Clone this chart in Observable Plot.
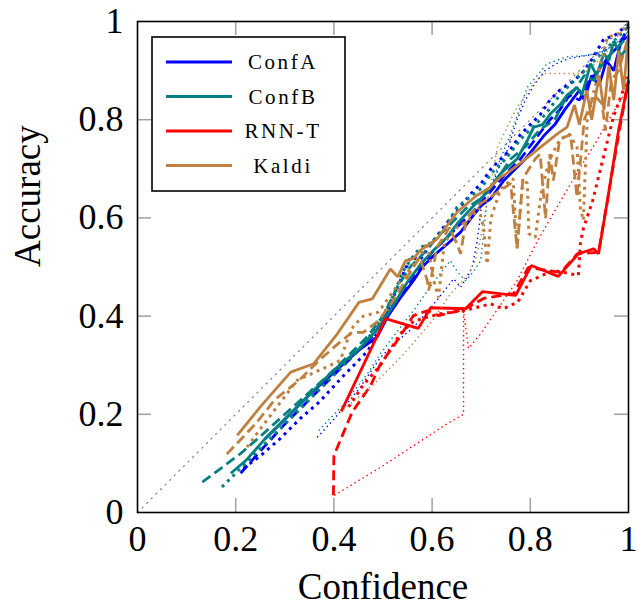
<!DOCTYPE html>
<html><head><meta charset="utf-8">
<script src="https://cdn.jsdelivr.net/npm/d3@7"></script>
<script src="https://cdn.jsdelivr.net/npm/@observablehq/plot@0.6"></script>
<style>
body{margin:0;background:#fff}
#chart svg text { font-family: "Liberation Serif", serif !important; }
</style>
</head><body><div id="chart"></div>
<script>
// ---- data ----
const systems = ["ConfA", "ConfB", "RNN-T", "Kaldi"];
const colors = ["#0000ff", "#008080", "#ff0000", "#bf8040"];
const xTicks = [0, 0.2, 0.4, 0.6, 0.8, 1];
const yTicks = [0, 0.2, 0.4, 0.6, 0.8, 1];
const diagonal = [[0, 0], [1, 1]];

const confA_solid = [[0.26,0.15],[0.30,0.19],[0.35,0.24],[0.40,0.285],[0.45,0.33],[0.488,0.357],[0.51,0.40],[0.536,0.438],[0.562,0.472],[0.58,0.50],[0.603,0.523],[0.631,0.547],[0.658,0.571],[0.68,0.60],[0.70,0.625],[0.72,0.64],[0.745,0.675],[0.77,0.70],[0.79,0.72],[0.81,0.745],[0.83,0.77],[0.85,0.79],[0.87,0.82],[0.885,0.84],[0.90,0.86],[0.91,0.84],[0.925,0.89],[0.94,0.87],[0.955,0.92],[0.97,0.90],[0.985,0.96],[1.0,0.97]];
const confA_dashed = [[0.21,0.08],[0.25,0.125],[0.30,0.18],[0.35,0.23],[0.40,0.28],[0.44,0.32],[0.48,0.36],[0.51,0.41],[0.54,0.45],[0.57,0.49],[0.60,0.53],[0.63,0.56],[0.66,0.59],[0.69,0.62],[0.72,0.655],[0.75,0.69],[0.78,0.72],[0.81,0.76],[0.84,0.80],[0.86,0.82],[0.88,0.85],[0.90,0.84],[0.92,0.88],[0.94,0.90],[0.96,0.93],[0.98,0.95],[1.0,0.99]];
const confA_dotted = [[0.216,0.09],[0.25,0.115],[0.29,0.15],[0.33,0.19],[0.37,0.225],[0.42,0.279],[0.47,0.33],[0.50,0.39],[0.53,0.46],[0.556,0.52],[0.576,0.515],[0.60,0.55],[0.63,0.59],[0.655,0.62],[0.68,0.65],[0.70,0.67],[0.72,0.70],[0.74,0.72],[0.76,0.74],[0.78,0.77],[0.80,0.79],[0.82,0.81],[0.84,0.84],[0.86,0.86],[0.875,0.87],[0.89,0.88],[0.91,0.90],[0.93,0.93],[0.95,0.965],[0.97,0.97],[1.0,0.995]];
const confA_thin = [[0.366,0.153],[0.40,0.19],[0.45,0.25],[0.495,0.316],[0.53,0.35],[0.562,0.377],[0.60,0.42],[0.644,0.476],[0.658,0.459],[0.672,0.48],[0.682,0.50],[0.692,0.554],[0.702,0.635],[0.72,0.66],[0.735,0.70],[0.753,0.737],[0.773,0.80],[0.79,0.84],[0.807,0.87],[0.83,0.90],[0.855,0.915],[0.88,0.925],[0.91,0.93],[0.94,0.935],[0.97,0.95],[1.0,0.98]];

const confB_solid = [[0.19,0.08],[0.22,0.105],[0.257,0.147],[0.30,0.19],[0.35,0.24],[0.40,0.29],[0.454,0.335],[0.49,0.375],[0.52,0.42],[0.55,0.47],[0.576,0.505],[0.603,0.534],[0.631,0.561],[0.651,0.588],[0.68,0.62],[0.71,0.65],[0.739,0.69],[0.773,0.72],[0.794,0.758],[0.807,0.785],[0.825,0.79],[0.841,0.812],[0.86,0.83],[0.875,0.85],[0.895,0.866],[0.905,0.85],[0.923,0.914],[0.935,0.89],[0.95,0.935],[0.96,0.92],[0.97,0.96],[0.985,0.93],[1.0,0.95]];
const confB_dashed = [[0.132,0.062],[0.17,0.09],[0.21,0.12],[0.25,0.155],[0.30,0.20],[0.35,0.245],[0.40,0.29],[0.44,0.33],[0.47,0.36],[0.50,0.40],[0.53,0.46],[0.555,0.50],[0.58,0.525],[0.61,0.56],[0.64,0.59],[0.67,0.62],[0.70,0.64],[0.73,0.675],[0.76,0.72],[0.79,0.745],[0.82,0.78],[0.85,0.80],[0.87,0.84],[0.89,0.86],[0.91,0.89],[0.93,0.88],[0.95,0.92],[0.97,0.94],[1.0,0.97]];
const confB_dotted = [[0.172,0.052],[0.20,0.08],[0.24,0.12],[0.28,0.16],[0.32,0.20],[0.36,0.24],[0.40,0.28],[0.44,0.32],[0.47,0.355],[0.50,0.40],[0.52,0.44],[0.54,0.49],[0.56,0.52],[0.576,0.54],[0.60,0.55],[0.625,0.58],[0.651,0.622],[0.68,0.645],[0.70,0.66],[0.72,0.69],[0.75,0.72],[0.78,0.76],[0.80,0.78],[0.83,0.81],[0.86,0.85],[0.88,0.87],[0.90,0.89],[0.92,0.91],[0.94,0.93],[0.96,0.95],[0.98,0.97],[1.0,0.99]];
const confB_thin = [[0.369,0.167],[0.42,0.22],[0.47,0.285],[0.495,0.324],[0.53,0.37],[0.562,0.411],[0.60,0.465],[0.637,0.513],[0.652,0.49],[0.668,0.472],[0.684,0.49],[0.699,0.513],[0.712,0.635],[0.735,0.71],[0.76,0.771],[0.794,0.866],[0.834,0.914],[0.875,0.928],[0.916,0.931],[0.95,0.94],[0.98,0.96],[1.0,0.98]];

const rnnt_solid = [[0.415,0.206],[0.46,0.30],[0.505,0.395],[0.572,0.375],[0.597,0.417],[0.668,0.415],[0.703,0.45],[0.770,0.442],[0.802,0.503],[0.857,0.481],[0.898,0.527],[0.929,0.537],[0.939,0.527],[0.957,0.635],[0.98,0.78],[1.0,0.88]];
const rnnt_dashed = [[0.399,0.035],[0.40,0.116],[0.437,0.204],[0.475,0.259],[0.495,0.303],[0.525,0.344],[0.562,0.401],[0.59,0.411],[0.613,0.401],[0.664,0.413],[0.705,0.436],[0.766,0.446],[0.796,0.499],[0.862,0.489],[0.896,0.527],[0.939,0.53],[0.957,0.635],[0.98,0.77],[1.0,0.88]];
const rnnt_dotted = [[0.43,0.215],[0.46,0.26],[0.495,0.30],[0.535,0.364],[0.563,0.39],[0.617,0.405],[0.664,0.411],[0.719,0.425],[0.745,0.415],[0.774,0.428],[0.80,0.472],[0.847,0.493],[0.898,0.483],[0.902,0.548],[0.908,0.578],[0.927,0.635],[0.969,0.805],[1.0,0.89]];
const rnnt_thin = [[0.401,0.035],[0.495,0.092],[0.562,0.136],[0.631,0.181],[0.664,0.20],[0.664,0.41],[0.674,0.334],[0.699,0.364],[0.773,0.472],[0.815,0.554],[0.862,0.635],[0.902,0.703],[0.936,0.758],[0.963,0.805],[1.0,0.866]];

const kaldi_solid = [[0.203,0.157],[0.25,0.215],[0.312,0.286],[0.359,0.303],[0.407,0.364],[0.451,0.428],[0.478,0.435],[0.515,0.496],[0.53,0.48],[0.546,0.513],[0.562,0.517],[0.576,0.534],[0.61,0.557],[0.631,0.585],[0.651,0.612],[0.69,0.645],[0.715,0.66],[0.739,0.683],[0.751,0.69],[0.787,0.717],[0.821,0.744],[0.855,0.771],[0.875,0.785],[0.89,0.83],[0.90,0.79],[0.915,0.86],[0.925,0.80],[0.94,0.89],[0.95,0.82],[0.96,0.91],[0.97,0.84],[0.98,0.94],[0.99,0.86],[1.0,0.97]];
const kaldi_dashed = [[0.182,0.119],[0.24,0.18],[0.28,0.23],[0.33,0.27],[0.37,0.31],[0.41,0.345],[0.437,0.367],[0.46,0.367],[0.49,0.39],[0.52,0.43],[0.55,0.48],[0.575,0.52],[0.59,0.473],[0.593,0.452],[0.61,0.54],[0.635,0.58],[0.651,0.547],[0.658,0.527],[0.67,0.60],[0.70,0.63],[0.73,0.65],[0.76,0.67],[0.773,0.537],[0.785,0.68],[0.81,0.72],[0.82,0.73],[0.831,0.599],[0.84,0.73],[0.847,0.676],[0.86,0.76],[0.882,0.77],[0.895,0.642],[0.91,0.80],[0.93,0.85],[0.946,0.833],[0.953,0.778],[0.965,0.88],[0.98,0.90],[1.0,0.97]];
const kaldi_dotted = [[0.223,0.133],[0.25,0.17],[0.28,0.21],[0.325,0.269],[0.36,0.285],[0.393,0.30],[0.413,0.31],[0.427,0.35],[0.44,0.38],[0.46,0.40],[0.491,0.408],[0.52,0.45],[0.55,0.49],[0.575,0.52],[0.59,0.55],[0.603,0.473],[0.613,0.438],[0.625,0.55],[0.65,0.58],[0.68,0.60],[0.695,0.62],[0.705,0.58],[0.712,0.506],[0.72,0.60],[0.74,0.66],[0.765,0.68],[0.773,0.54],[0.785,0.68],[0.794,0.67],[0.797,0.568],[0.81,0.56],[0.824,0.663],[0.84,0.72],[0.86,0.76],[0.88,0.77],[0.895,0.744],[0.902,0.62],[0.908,0.595],[0.916,0.80],[0.93,0.86],[0.957,0.968],[0.98,0.975],[1.0,0.995]];
const kaldi_thin = [[0.42,0.21],[0.48,0.26],[0.54,0.32],[0.60,0.39],[0.637,0.445],[0.658,0.466],[0.678,0.493],[0.688,0.513],[0.699,0.56],[0.71,0.62],[0.733,0.744],[0.77,0.82],[0.807,0.874],[0.827,0.894],[0.86,0.894],[0.909,0.894],[0.95,0.93],[1.0,1.0]];

// ---- assemble ----
const series = [
  ["ConfA","solid",confA_solid],["ConfA","dashed",confA_dashed],["ConfA","dotted",confA_dotted],["ConfA","thin",confA_thin],
  ["ConfB","solid",confB_solid],["ConfB","dashed",confB_dashed],["ConfB","dotted",confB_dotted],["ConfB","thin",confB_thin],
  ["RNN-T","solid",rnnt_solid],["RNN-T","dashed",rnnt_dashed],["RNN-T","dotted",rnnt_dotted],["RNN-T","thin",rnnt_thin],
  ["Kaldi","solid",kaldi_solid],["Kaldi","dashed",kaldi_dashed],["Kaldi","dotted",kaldi_dotted],["Kaldi","thin",kaldi_thin]
];
const styles = {
  solid: {strokeWidth: 2.8},
  dashed: {strokeWidth: 2.8, strokeDasharray: "10,5"},
  dotted: {strokeWidth: 3, strokeDasharray: "3,4.5"},
  thin: {strokeWidth: 1.4, strokeDasharray: "1.4,3.3"}
};
const colorOf = s => colors[systems.indexOf(s)];
const fmt = d => d === 0 ? "0" : d === 1 ? "1" : String(d);
const font = "Liberation Serif";

const lineMarks = series.map(([sys, st, pts]) =>
  Plot.line(pts.map(([x, y]) => ({x, y})), {
    x: "x", y: "y", stroke: colorOf(sys), strokeLinejoin: "miter", strokeLinecap: "butt", ...styles[st]
  }));

const inner = 491, tickLen = 14;
const innerTicks = [0.2, 0.4, 0.6, 0.8];

const chart = Plot.plot({
  width: 637, height: 607,
  marginLeft: 137, marginRight: 9, marginTop: 21, marginBottom: 95,
  x: {domain: [0, 1], axis: null},
  y: {domain: [0, 1], axis: null},
  style: {background: "white", color: "black", fontFamily: font},
  marks: [
    Plot.ruleX(innerTicks, {x: d => d, insetTop: inner - tickLen, stroke: "#a0a0a0", strokeWidth: 1.5}),
    Plot.ruleX(innerTicks, {x: d => d, insetBottom: inner - tickLen, stroke: "#a0a0a0", strokeWidth: 1.5}),
    Plot.ruleY(innerTicks, {y: d => d, insetRight: inner - tickLen, stroke: "#a0a0a0", strokeWidth: 1.5}),
    Plot.ruleY(innerTicks, {y: d => d, insetLeft: inner - tickLen, stroke: "#a0a0a0", strokeWidth: 1.5}),
    Plot.line(diagonal.map(([x, y]) => ({x, y})), {x: "x", y: "y", stroke: "#808080", strokeWidth: 1.2, strokeDasharray: "1.2,5.3"}),
    ...lineMarks,
    Plot.frame({stroke: "black", strokeWidth: 1.6}),
    Plot.text(xTicks, {x: d => d, text: fmt, frameAnchor: "bottom", dy: 27, lineAnchor: "middle", fontSize: 36, fontFamily: font, fill: "black"}),
    Plot.text(yTicks, {y: d => d, text: fmt, frameAnchor: "left", dx: -14, textAnchor: "end", lineAnchor: "middle", fontSize: 36, fontFamily: font, fill: "black"}),
    Plot.text(["Confidence"], {text: d => d, frameAnchor: "bottom", dy: 75, lineAnchor: "middle", fontSize: 37, fontFamily: font, fill: "black"}),
    Plot.text(["Accuracy"], {text: d => d, frameAnchor: "left", dx: -109, rotate: -90, lineAnchor: "middle", fontSize: 37, fontFamily: font, fill: "black"})
  ]
});
document.getElementById("chart").appendChild(chart);

// ---- legend (inside plot, top-left) ----
const svg = d3.select(chart);
const lg = svg.append("g").attr("font-family", font);
lg.append("rect").attr("x", 152).attr("y", 37).attr("width", 193).attr("height", 154)
  .attr("fill", "white").attr("stroke", "black").attr("stroke-width", 1.6);
systems.forEach((s, i) => {
  const yy = 62 + i * 34.5;
  lg.append("line").attr("x1", 166).attr("x2", 232).attr("y1", yy).attr("y2", yy)
    .attr("stroke", colors[i]).attr("stroke-width", 2.8);
  lg.append("text").attr("x", 283).attr("y", yy).attr("dy", "0.35em").attr("text-anchor", "middle")
    .attr("font-size", 21).attr("letter-spacing", "2.6px").attr("fill", "black").text(s);
});
</script></body></html>
